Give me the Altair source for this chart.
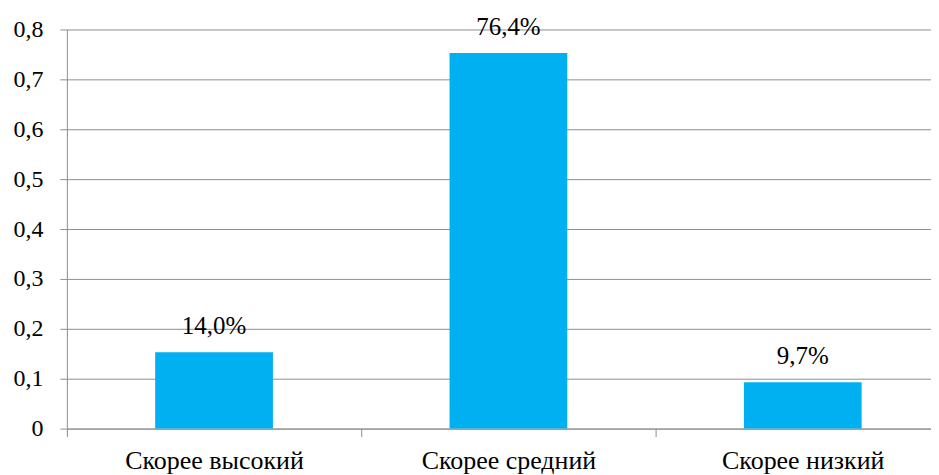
import altair as alt
import pandas as pd

categories = ["Скорее высокий", "Скорее средний", "Скорее низкий"]
values = [0.153, 0.753, 0.093]
labels = ["14,0%", "76,4%", "9,7%"]
y_ticks = [0, 0.1, 0.2, 0.3, 0.4, 0.5, 0.6, 0.7, 0.8]

df = pd.DataFrame({"cat": categories, "val": values, "lab": labels})

FONT = "Liberation Serif"
GRID = "#8e8e8e"

x = alt.X(
    "cat:N", sort=categories, title=None,
    scale=alt.Scale(range=[0, 885], paddingInner=0, paddingOuter=0),
    axis=alt.Axis(labelAngle=0, tickBand="extent", ticks=True, tickSize=8,
                  tickColor=GRID, domainColor=GRID, labelPadding=11,
                  labelFont=FONT, labelFontSize=26, labelColor="black",
                  labelLimit=0, grid=False),
)
y = alt.Y(
    "val:Q", title=None,
    scale=alt.Scale(domain=[0, 0.8], nice=False, zero=True),
    axis=alt.Axis(values=y_ticks,
                  labelExpr="replace(format(datum.value, '.1~f'), '.', ',')",
                  grid=True, gridColor=GRID, tickColor=GRID, tickSize=7,
                  domainColor=GRID, labelPadding=17, labelFont=FONT,
                  labelFontSize=24, labelColor="black"),
)

bars = alt.Chart(df).mark_bar(color="#00B0F0", width=alt.RelativeBandSize(0.4)).encode(x=x, y=y)
text = alt.Chart(df).mark_text(baseline="alphabetic", dy=-18, font=FONT, fontSize=25,
                               color="black").encode(
    x=alt.X("cat:N", sort=categories), y="val:Q", text="lab:N")

chart = (bars + text).properties(
    width=866, height=400,
    autosize=alt.AutoSizeParams(type="none"),
    padding={"left": 59, "top": 21, "right": 0, "bottom": 46},
).configure_view(stroke=None)

chart.save("out.html", embed_options={"renderer": "svg", "actions": False})
